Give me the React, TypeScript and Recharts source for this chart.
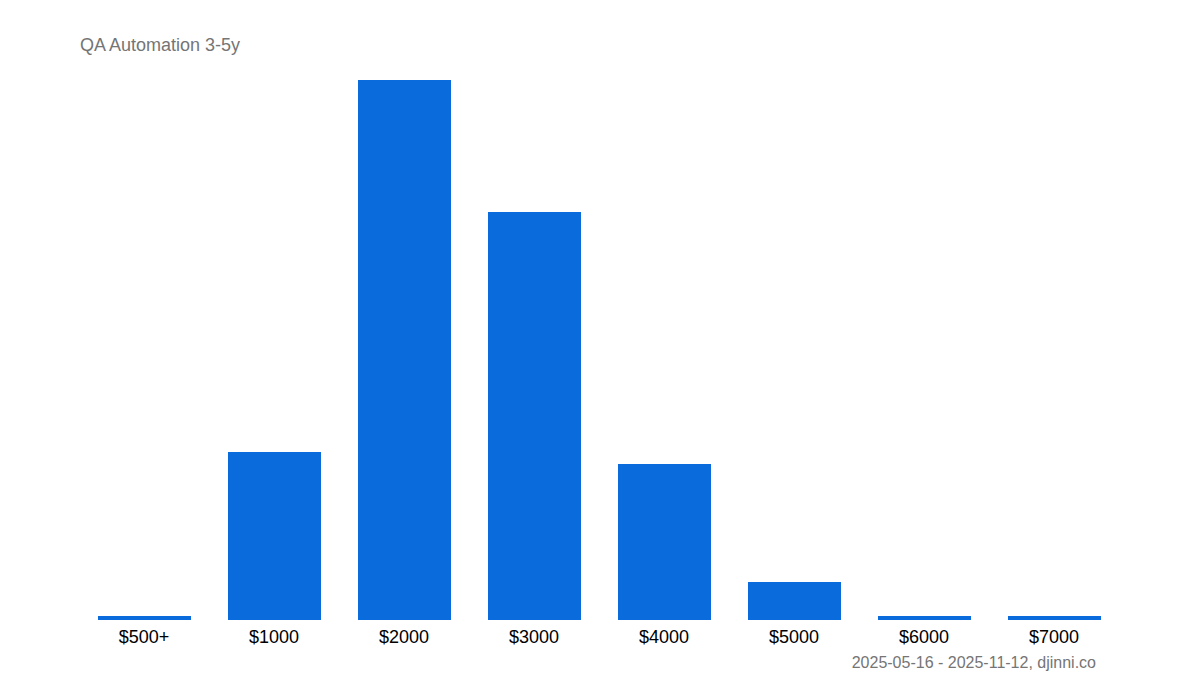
import React from "react";
import { BarChart, Bar, XAxis, YAxis } from "recharts";

const categories = ["$500+", "$1000", "$2000", "$3000", "$4000", "$5000", "$6000", "$7000"];
const counts = [1, 42, 135, 102, 39, 9.5, 1, 1];
const titleText = "QA Automation 3-5y";
const footerText = "2025-05-16 - 2025-11-12, djinni.co";

const data = categories.map((c, i) => ({ name: c, value: counts[i] }));

const font = '"Liberation Sans", Arial, sans-serif';

export default function App() {
  return (
    <div style={{ position: "absolute", left: 0, top: 0, width: 1200, height: 700, background: "#fff", fontFamily: font }}>
      <div style={{ position: "absolute", left: 80, top: 36, fontSize: 18, lineHeight: "18px", color: "#757575" }}>
        {titleText}
      </div>
      <BarChart
        width={1200}
        height={700}
        data={data}
        margin={{ top: 80, right: 81, left: 79, bottom: 50 }}
        barCategoryGap={0}
      >
        <XAxis
          dataKey="name"
          axisLine={false}
          tickLine={false}
          height={30}
          interval={0}
          tick={{ fontSize: 18, fill: "#000", fontFamily: font, dy: 2 }}
        />
        <YAxis hide domain={[0, 135]} />
        <Bar dataKey="value" fill="#0a6bdc" barSize={93} isAnimationActive={false} />
      </BarChart>
      <div style={{ position: "absolute", right: 104, top: 655, fontSize: 16, lineHeight: "16px", color: "#757575" }}>
        {footerText}
      </div>
    </div>
  );
}
